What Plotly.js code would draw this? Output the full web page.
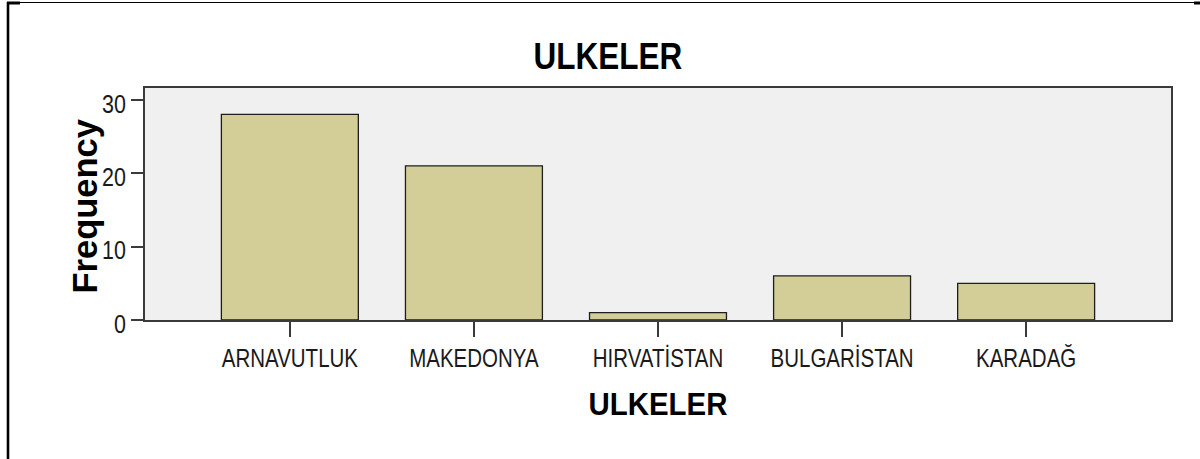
<!DOCTYPE html>
<html>
<head>
<meta charset="utf-8">
<script src="https://cdn.plot.ly/plotly-3.0.1.min.js"></script>
<style>
html,body{margin:0;padding:0;background:#fff;}
#chart{width:1200px;height:459px;}
</style>
</head>
<body>
<div id="chart"></div>
<script>
// ---- data ----
const categories = ['ARNAVUTLUK', 'MAKEDONYA', 'HIRVATİSTAN', 'BULGARİSTAN', 'KARADAĞ'];
const frequencies = [28, 21, 1, 6, 5];
const yTickValues = [0, 10, 20, 30];
const yTickLabels = ['0', '10', '20', '30'];
const chartTitle = 'ULKELER';
const xTitle = 'ULKELER';
const yTitle = 'Frequency';

// ---- geometry ----
const W = 1200, H = 459;
const L = 145, R = 1171, T = 88, B = 320;
const px = x => (x - L) / (R - L);
const py = y => (B - y) / (B - T);
function line(x0, y0, x1, y1, w) {
  return {type: 'line', xref: 'paper', yref: 'paper', x0: px(x0), y0: py(y0), x1: px(x1), y1: py(y1),
          line: {color: '#000', width: w}};
}

const fam = '"Liberation Sans", Arial, sans-serif';

const trace = {
  type: 'bar',
  x: categories,
  y: frequencies,
  marker: {color: '#d3ce97', line: {color: '#1e1e1e', width: 1.3}},
  hoverinfo: 'x+y'
};

const axisLine = '#3a3a3a';
const layout = {
  width: W, height: H,
  margin: {l: L, r: W - R, t: T, b: H - B, pad: 0},
  paper_bgcolor: '#ffffff',
  plot_bgcolor: '#f0f0f0',
  showlegend: false,
  bargap: 0.256,
  title: {
    text: chartTitle,
    font: {family: fam, size: 37.5, color: '#000', weight: 'bold'},
    xref: 'container', yref: 'container',
    x: 608 / W, xanchor: 'center',
    y: 1 - 56 / H, yanchor: 'middle'
  },
  xaxis: {
    type: 'category',
    range: [-0.787, 4.787],
    showgrid: false, zeroline: false,
    showline: true, mirror: true, linecolor: axisLine, linewidth: 2,
    ticks: 'outside', ticklen: 15, tickwidth: 2, tickcolor: axisLine,
    tickfont: {family: fam, size: 25, color: '#1a1a1a'},
    title: {text: xTitle, standoff: 22,
            font: {family: fam, size: 32, color: '#000', weight: 'bold'}},
    fixedrange: true
  },
  yaxis: {
    range: [0, 31.6],
    tickvals: yTickValues, ticktext: yTickLabels,
    showgrid: false, zeroline: false,
    showline: true, mirror: true, linecolor: axisLine, linewidth: 2,
    ticks: 'outside', ticklen: 12, tickwidth: 2, tickcolor: axisLine,
    tickfont: {family: fam, size: 25, color: '#1a1a1a'},
    ticklabelshift: 4,
    fixedrange: true
  },
  annotations: [{
    text: yTitle, showarrow: false, textangle: -90,
    xref: 'paper', yref: 'paper',
    x: px(84), y: py(206.5), xanchor: 'center', yanchor: 'middle',
    font: {family: fam, size: 34.5, color: '#000', weight: 'bold'}
  }],
  shapes: [
    line(7, 2.5, 1197, 2.5, 1.2),
    line(8, 2, 8, 459, 2.6),
    line(7, 3, 20, 3, 3),
    line(1194, 3, 1200, 3, 3)
  ]
};

// horizontal condensing of the text (reference uses a narrow face)
function squeeze(sel, s) {
  document.querySelectorAll(sel).forEach(el => {
    const x = parseFloat(el.getAttribute('x')) || 0;
    const y = parseFloat(el.getAttribute('y')) || 0;
    const t = el.getAttribute('transform') || '';
    el.setAttribute('transform', t + ' translate(' + x + ',' + y + ') scale(' + s + ',1) translate(' + (-x) + ',' + (-y) + ')');
  });
}

Plotly.newPlot('chart', [trace], layout, {displayModeBar: false, staticPlot: true}).then(() => {
  squeeze('#chart text.gtitle', 0.84);
  squeeze('#chart g.xtick > text', 0.82);
  squeeze('#chart g.ytick > text', 0.86);
  squeeze('#chart text.xtitle', 0.92);
});
</script>
</body>
</html>
